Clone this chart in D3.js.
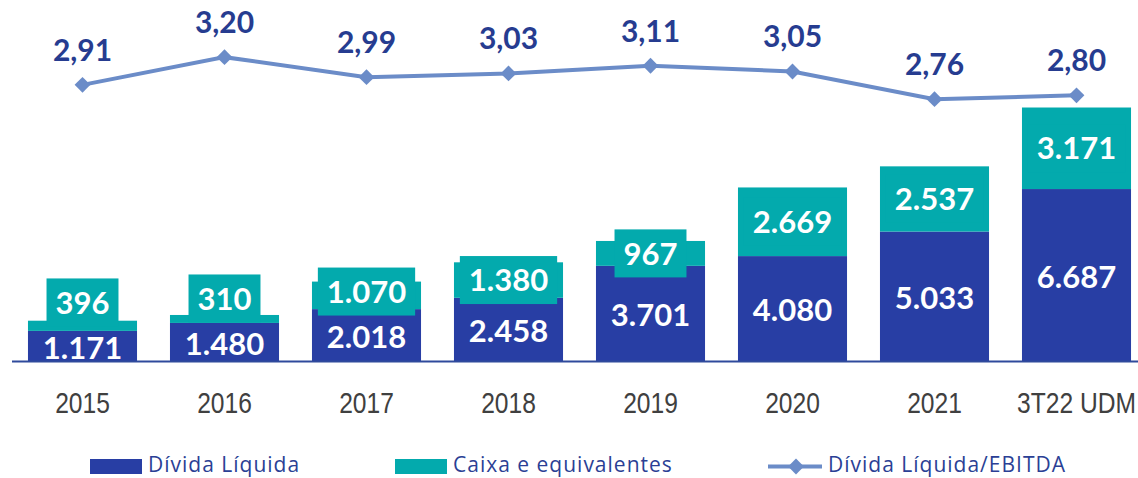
<!DOCTYPE html>
<html>
<head>
<meta charset="utf-8">
<script src="https://cdnjs.cloudflare.com/ajax/libs/d3/7.8.5/d3.min.js"></script>
<style>
  body { margin: 0; background: #fff; }
  svg { display: block; }
</style>
</head>
<body>
<script>
(function(){

//chart data
var categories = ["2015", "2016", "2017", "2018", "2019", "2020", "2021", "3T22 UDM"];
var dividaLiquida = [1171, 1480, 2018, 2458, 3701, 4080, 5033, 6687];
var caixa = [396, 310, 1070, 1380, 967, 2669, 2537, 3171];
var alavancagem = [2.91, 3.20, 2.99, 3.03, 3.11, 3.05, 2.76, 2.80];
var legendLabels = ["Dívida Líquida", "Caixa e equivalentes", "Dívida Líquida/EBITDA"];

//colors
var cDivida = "#283ea4",
    cCaixa = "#03aaad",
    cLine = "#6b8cc8",
    cLabel = "#263c90";

var width = 1138,
    height = 478,
    baseY = 361;

var svg = d3.select("body")
    .append("svg")
    .attr("width", width)
    .attr("height", height);

//scales
var x = d3.scaleBand()
    .domain(categories)
    .range([11.5, 1147.5])
    .paddingInner(0.232)
    .paddingOuter(0.116);

var y = d3.scaleLinear()
    .domain([0, 14000])
    .range([baseY, 1]);

var yLine = d3.scaleLinear()
    .domain([2.5, 3.5])
    .range([124, 28.5]);

var fmtInt = function(v){ return d3.format(",")(v).replace(/,/g, "."); };
var fmtDec = function(v){ return d3.format(".2f")(v).replace(".", ","); };

var valueFont = "Lato, 'Open Sans', sans-serif";

//stacked bars
var bars = svg.selectAll(".bar")
    .data(categories)
    .enter()
    .append("g")
    .attr("class", "bar");

bars.append("rect")
    .attr("x", function(d){ return x(d); })
    .attr("width", x.bandwidth())
    .attr("y", function(d, i){ return y(dividaLiquida[i]); })
    .attr("height", function(d, i){ return baseY - y(dividaLiquida[i]); })
    .style("fill", cDivida);

bars.append("rect")
    .attr("x", function(d){ return x(d); })
    .attr("width", x.bandwidth())
    .attr("y", function(d, i){ return y(dividaLiquida[i] + caixa[i]); })
    .attr("height", function(d, i){ return y(dividaLiquida[i]) - y(dividaLiquida[i] + caixa[i]); })
    .style("fill", cCaixa);

//divida labels, centred in segment
var divCenter = function(i){ return (baseY + y(dividaLiquida[i])) / 2 + 1.5; };
bars.append("text")
    .attr("x", function(d){ return x(d) + x.bandwidth() / 2; })
    .attr("y", function(d, i){ return divCenter(i); })
    .attr("dy", "0.36em")
    .attr("text-anchor", "middle")
    .style("font-family", valueFont)
    .style("font-weight", "bold")
    .style("font-size", "31px")
    .style("fill", "#fff")
    .text(function(d, i){ return fmtInt(dividaLiquida[i]); });

//caixa labels with teal box, pushed up when segment is too thin
var caixaCenter = function(i){
    var c = (y(dividaLiquida[i]) + y(dividaLiquida[i] + caixa[i])) / 2;
    return Math.min(c, divCenter(i) - 45);
};

var caixaLabels = bars.append("g");
caixaLabels.append("text")
    .attr("x", function(d){ return x(d) + x.bandwidth() / 2; })
    .attr("y", function(d, i){ return caixaCenter(i); })
    .attr("dy", "0.36em")
    .attr("text-anchor", "middle")
    .style("font-family", valueFont)
    .style("font-weight", "bold")
    .style("font-size", "31px")
    .style("fill", "#fff")
    .text(function(d, i){ return fmtInt(caixa[i]); });

caixaLabels.each(function(d, i){
    var g = d3.select(this);
    var t = g.select("text");
    var w = t.node().getComputedTextLength();
    g.insert("rect", "text")
        .attr("x", x(d) + x.bandwidth() / 2 - w / 2 - 9)
        .attr("width", w + 18)
        .attr("y", caixaCenter(i) - 24)
        .attr("height", 48)
        .style("fill", cCaixa);
});

//baseline
svg.append("line")
    .attr("x1", 12)
    .attr("x2", width)
    .attr("y1", baseY + 0.5)
    .attr("y2", baseY + 0.5)
    .style("stroke", "#2f4a9c")
    .style("stroke-width", 2);

//category axis
var xAxis = d3.axisBottom(x)
    .tickSize(0)
    .tickPadding(31);

var axis = svg.append("g")
    .attr("transform", "translate(0," + baseY + ")")
    .call(xAxis);
axis.select(".domain").remove();
axis.selectAll("text")
    .attr("transform", "scale(0.82,1)")
    .style("font-family", "'Liberation Sans', Arial, sans-serif")
    .style("font-size", "30px")
    .style("fill", "#404040");

//ratio line
var line = d3.line()
    .x(function(d, i){ return x(categories[i]) + x.bandwidth() / 2; })
    .y(function(d){ return yLine(d); });

svg.append("path")
    .datum(alavancagem)
    .attr("d", line)
    .style("fill", "none")
    .style("stroke", cLine)
    .style("stroke-width", 4);

var diamond = d3.symbol().type(d3.symbolSquare).size(125);

svg.selectAll(".marker")
    .data(alavancagem)
    .enter()
    .append("path")
    .attr("class", "marker")
    .attr("d", diamond)
    .attr("transform", function(d, i){
        return "translate(" + (x(categories[i]) + x.bandwidth() / 2) + "," + yLine(d) + ") rotate(45)";
    })
    .style("fill", cLine);

svg.selectAll(".lineLabel")
    .data(alavancagem)
    .enter()
    .append("text")
    .attr("class", "lineLabel")
    .attr("x", function(d, i){ return x(categories[i]) + x.bandwidth() / 2; })
    .attr("y", function(d){ return yLine(d) - 24; })
    .attr("text-anchor", "middle")
    .style("font-family", valueFont)
    .style("font-weight", "bold")
    .style("font-size", "30px")
    .style("fill", cLabel)
    .text(function(d){ return fmtDec(d); });

//legend
var legendX = [90, 395, 768];
var legend = svg.selectAll(".legend")
    .data(legendLabels)
    .enter()
    .append("g")
    .attr("class", "legend")
    .attr("transform", function(d, i){ return "translate(" + legendX[i] + ",466.5)"; });

legend.filter(function(d, i){ return i < 2; })
    .append("rect")
    .attr("x", 0)
    .attr("y", -7.5)
    .attr("width", 52)
    .attr("height", 15)
    .style("fill", function(d, i){ return i == 0 ? cDivida : cCaixa; });

var lineKey = legend.filter(function(d, i){ return i == 2; });
lineKey.append("line")
    .attr("x1", 0)
    .attr("x2", 54)
    .style("stroke", cLine)
    .style("stroke-width", 4);
lineKey.append("path")
    .attr("d", diamond)
    .attr("transform", "translate(28,0) rotate(45)")
    .style("fill", cLine);

legend.append("text")
    .attr("x", function(d, i){ return i == 2 ? 60 : 58; })
    .attr("y", 5)
    .style("font-family", "'Open Sans', sans-serif")
    .style("font-size", "21px")
    .style("letter-spacing", "1px")
    .style("fill", "#2b3f95")
    .text(function(d){ return d; });

})();
</script>
</body>
</html>
